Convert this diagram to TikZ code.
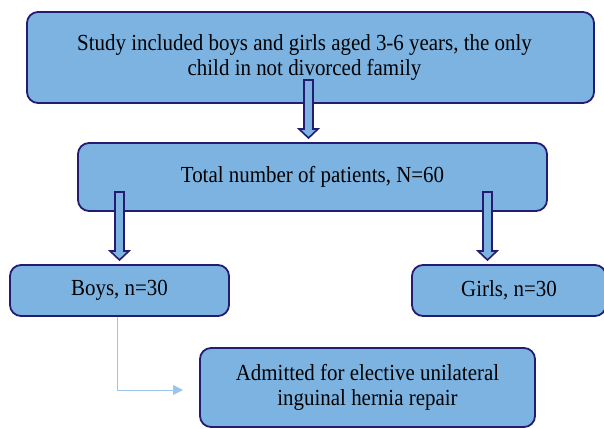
\documentclass[tikz,border=0pt]{standalone}
\usepackage{fontspec}
\setmainfont{Liberation Serif}[FakeStretch=0.91]
\usetikzlibrary{arrows.meta,calc}
\definecolor{boxfill}{HTML}{7DB3E1}
\definecolor{boxline}{HTML}{241C72}
\definecolor{thinline}{HTML}{9CC5EA}
\tikzset{
  box/.style={draw=boxline, fill=boxfill, line width=1.8pt, rounded corners=11pt,
    align=center, inner sep=0pt, font=\fontsize{23}{25}\selectfont},
  barrow/.style={draw=boxline, fill=boxfill, line width=1.6pt, line join=miter},
  thin/.style={draw=thinline, line width=0.9pt, -{Triangle[length=10pt,width=10pt]}},
}
\newcommand\blockarrow[3]{%
  \draw[barrow] (#1-4.5,#2) -- (#1+4.5,#2) -- (#1+4.5,#3-9) -- (#1+9.5,#3-9)
    -- (#1,#3) -- (#1-9.5,#3-9) -- (#1-4.5,#3-9) -- cycle;}
\newcommand\twolines[3]{\raisebox{#1}{\begin{tabular}{@{}c@{}}#2\\#3\end{tabular}}}
\begin{document}
\begin{tikzpicture}[x=1pt,y=-1pt]
\useasboundingbox (0,0) rectangle (604,428);
\begin{scope}
\clip (0,0) rectangle (604,428);
\node[box, minimum width=567pt, minimum height=91pt] (top) at (310.5,57.5)
  {\kern-12pt\twolines{11pt}{Study included boys and girls aged 3-6 years, the only}{child in not divorced family}};
\node[box, minimum width=469pt, minimum height=68pt] (total) at (312.5,177)
  {\raisebox{5pt}{Total number of patients, N=60}};
\node[box, minimum width=219pt, minimum height=51pt] (boys) at (119.5,290.5)
  {Boys, n=30};
\node[box, minimum width=194pt, minimum height=51pt] (girls) at (509,290.5)
  {Girls, n=30};
\node[box, minimum width=335pt, minimum height=79pt] (adm) at (367.5,387.5)
  {\twolines{5pt}{Admitted for elective unilateral}{inguinal hernia repair}};
\end{scope}
\blockarrow{308.5}{80}{138}
\blockarrow{119.5}{192}{260}
\blockarrow{487.5}{192}{260}
\coordinate (bend) at (117,390);
\draw[thin] (boys.south -| bend) -- (bend) -- (183,390);
\end{tikzpicture}
\end{document}
